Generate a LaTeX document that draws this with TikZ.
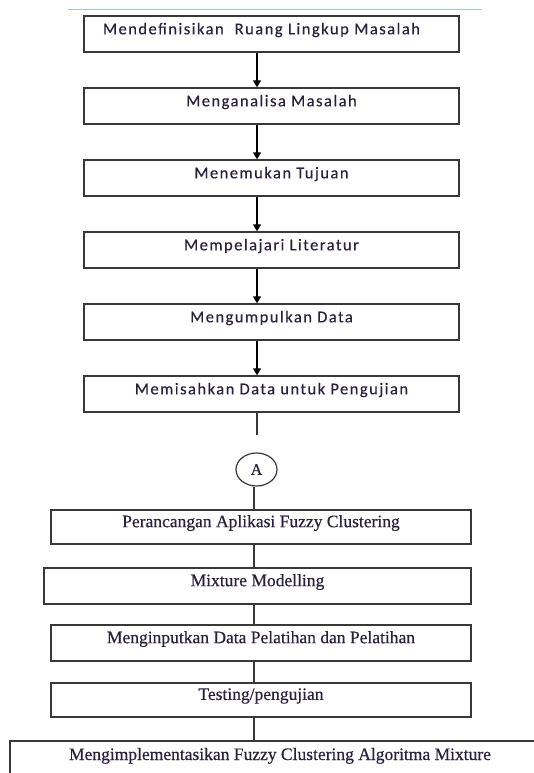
\documentclass[tikz,border=0pt]{standalone}
\usepackage{fontspec}
\usetikzlibrary{arrows.meta,shapes.geometric}
\newfontfamily\topfont[LetterSpace=9,FakeBold=0.3]{Carlito}
\newfontfamily\botfont[FakeBold=0.4]{Liberation Serif}
\definecolor{txtc}{HTML}{2A1F3C}
\definecolor{linec}{HTML}{383838}
\definecolor{rulec}{HTML}{A8C0E6}
\tikzset{
  boxa/.style={draw=linec, line width=1.4pt, rectangle, inner sep=0pt, anchor=center,
    font=\topfont\fontsize{16.5pt}{19pt}\selectfont, text=txtc},
  boxb/.style={draw=linec, line width=1.4pt, rectangle, inner sep=0pt, anchor=center,
    font=\botfont\fontsize{17.5pt}{20pt}\selectfont, text=txtc},
  arr/.style={draw=black, line width=1.4pt, -{Triangle[width=8pt,length=7pt]}},
  conn/.style={draw=linec, line width=1.5pt},
}
\newcommand{\up}[1]{\raisebox{4pt}[\height][\depth]{#1}}
\begin{document}
\begin{tikzpicture}[x=1pt,y=1pt]
\useasboundingbox (0,0) rectangle (534,-773);
\fill[white] (0,0) rectangle (534,-773);
\draw[rulec, line width=1.2pt] (68,-9.5) -- (482,-9.5);
% top boxes
\node[boxa, minimum height=36pt, text width=337pt, inner xsep=19pt, align=left] (b1) at (271.5,-34) {\up{Mendefinisikan~ Ruang Lingkup Masalah}};
\node[boxa, minimum width=375pt, minimum height=36pt] (b2) at (271.5,-106) {\up{Menganalisa Masalah}};
\node[boxa, minimum width=375pt, minimum height=36pt] (b3) at (271.5,-178) {\up{Menemukan Tujuan}};
\node[boxa, minimum width=375pt, minimum height=36pt] (b4) at (271.5,-250) {\up{Mempelajari Literatur}};
\node[boxa, minimum width=375pt, minimum height=36pt] (b5) at (271.5,-322) {\up{Mengumpulkan Data}};
\node[boxa, minimum width=375pt, minimum height=36pt] (b6) at (271.5,-394) {\up{Memisahkan Data untuk Pengujian}};
\coordinate (ax) at (257,0);
\foreach \a/\b in {b1/b2,b2/b3,b3/b4,b4/b5,b5/b6}
  \draw[arr] (\a.south -| ax) -- (\b.north -| ax);
\coordinate (c6) at (257,-435);
\draw[conn] (b6.south -| c6) -- (c6);
% connector circle
\node[ellipse, draw=linec, line width=1.2pt, minimum width=41pt, minimum height=33pt, inner sep=0pt,
  font=\botfont\fontsize{16pt}{18pt}\selectfont, text=txtc] (ca) at (256.5,-469.5) {A};
% bottom boxes
\node[boxb, minimum width=420pt, minimum height=34pt] (b7) at (261,-527) {\up{Perancangan Aplikasi Fuzzy Clustering}};
\node[boxb, minimum width=427pt, minimum height=36pt] (b8) at (257.5,-586) {\up{Mixture Modelling}};
\node[boxb, minimum width=420pt, minimum height=36pt] (b9) at (261,-643) {\up{Menginputkan Data Pelatihan dan Pelatihan}};
\node[boxb, minimum width=420pt, minimum height=34pt] (b10) at (261,-700) {\up{Testing/pengujian}};
\node[boxb, minimum width=540pt, minimum height=60pt, text depth=0pt] (b11) at (280,-771) {\raisebox{11pt}[0pt][0pt]{Mengimplementasikan Fuzzy Clustering Algoritma Mixture}};
\coordinate (bx) at (254,0);
\draw[conn] (ca.south -| bx) -- (b7.north -| bx);
\foreach \a/\b in {b7/b8,b8/b9,b9/b10,b10/b11}
  \draw[conn] (\a.south -| bx) -- (\b.north -| bx);
\end{tikzpicture}
\end{document}
